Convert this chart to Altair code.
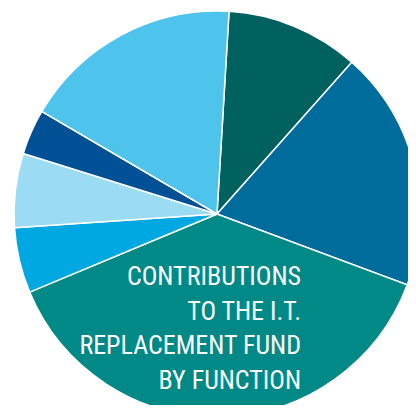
import altair as alt
import pandas as pd

functions = ["A", "B", "C", "D", "E", "F", "G"]
shares = [10.6, 19.1, 38.0, 5.2, 5.9, 3.6, 17.5]
colors = ["#00615E", "#006C9C", "#008986", "#00A8E1", "#9BDCF4", "#005096", "#4EC3EC"]
title_lines = ["CONTRIBUTIONS", "TO THE  I.T.", "REPLACEMENT FUND", "BY FUNCTION"]

df = pd.DataFrame({"function": functions, "share": shares, "order": list(range(len(functions)))})

start = 0.0593
pie = alt.Chart(df).mark_arc(radius=203, stroke="white", strokeWidth=1.5).encode(
    theta=alt.Theta("share:Q", stack=True, scale=alt.Scale(range=[start, start + 6.283185])),
    color=alt.Color("function:N", scale=alt.Scale(domain=functions, range=colors), legend=None),
    order=alt.Order("order:Q"),
    x=alt.value(209),
    y=alt.value(206),
)

text = alt.Chart(pd.DataFrame({"t": [title_lines]})).mark_text(
    align="right", baseline="alphabetic",
    font="Roboto Condensed, Arial Narrow, Liberation Sans Narrow, Roboto, sans-serif",
    fontSize=26, lineHeight=34.5, color="white",
).encode(text="t", x=alt.value(293), y=alt.value(277))

chart = alt.layer(pie, text).properties(
    width=400, height=397, padding=0, autosize=alt.AutoSizeParams(type="none")
).configure_view(stroke=None)

chart.save("out.html", embed_options={"renderer": "svg", "actions": False})
